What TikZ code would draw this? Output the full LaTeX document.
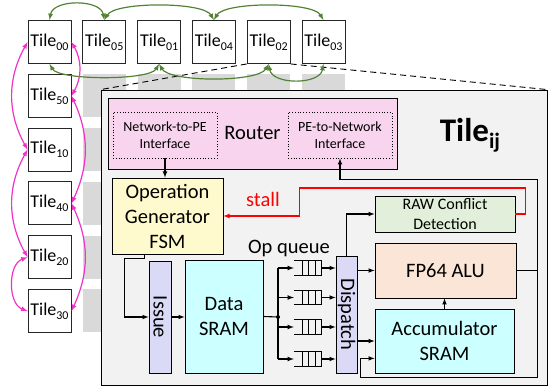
\documentclass[tikz,border=0pt]{standalone}
\usepackage{fontspec}
\setmainfont{Carlito}
\usetikzlibrary{calc,positioning}
\definecolor{ringgreen}{RGB}{84,130,53}
\definecolor{ringpink}{RGB}{240,50,200}
\definecolor{routerpink}{RGB}{249,212,238}
\definecolor{fsmyellow}{RGB}{255,250,205}
\definecolor{rawgreen}{RGB}{226,239,218}
\definecolor{alupeach}{RGB}{251,229,214}
\definecolor{sramcyan}{RGB}{204,255,255}
\definecolor{ctrlblue}{RGB}{218,218,247}
\definecolor{tilegray}{RGB}{242,242,242}
\definecolor{shadegray}{RGB}{217,217,217}
\newcommand{\tilelbl}[1]{Tile\raisebox{-4pt}{\fontsize{12}{12}\selectfont #1}}

\begin{document}
\begin{tikzpicture}[x=1pt,y=1pt,
  every node/.style={align=center,inner sep=0pt},
  tilebox/.style={draw=black!85,line width=0.9pt,fill=white,minimum width=43pt,minimum height=43pt,font=\fontsize{18}{20}\selectfont},
  shadebox/.style={fill=shadegray,minimum width=43pt,minimum height=43pt},
  unit/.style={draw,line width=0.8pt,font=\fontsize{20.5}{25}\selectfont},
  iface/.style={draw,dotted,line width=0.8pt,minimum width=104pt,minimum height=46pt,font=\fontsize{14}{17}\selectfont},
  wire/.style={line width=1.1pt,-latex},
  ring/.style={line width=1.2pt,latex-latex}]
\useasboundingbox (0,0) rectangle (550,-387);
% array of tiles behind the zoomed one
\foreach \i in {1,...,5}
  \foreach \j in {1,...,5}
    \node [shadebox] (s\i\j) at (49.5+54.8*\i,-42-53.8*\j) {};
\node [draw,fill=tilegray,line width=0.8pt,minimum width=446pt,minimum height=295pt] (pe) at (324,-237.5) {};
\foreach \lbl [count=\k from 0] in {00,05,01,04,02,03}
  \node [tilebox] (t\lbl) at (49.5+54.8*\k,-42) {\tilelbl{\lbl}};
\foreach \lbl [count=\k] in {50,10,40,20,30}
  \node [tilebox] (t\lbl) at (49.5,-42-53.8*\k) {\tilelbl{\lbl}};
\draw [dash pattern=on 6pt off 4pt,line width=0.9pt] (t02.south west) -- (pe.north west);
\draw [dash pattern=on 6pt off 4pt,line width=0.9pt] (t02.south east) -- (pe.north east);
% row ring
\draw [ring,ringgreen] (t00.north) to[out=80,in=100] (t05.north);
\draw [ring,ringgreen] (t05.north) to[out=60,in=120,looseness=0.5] (t04.north);
\draw [ring,ringgreen] (t04.north) to[out=60,in=120,looseness=0.5] (t03.north);
\draw [ring,ringgreen] (t00.south) to[out=-60,in=-120,looseness=0.45] (t01.south);
\draw [ring,ringgreen] (t01.south) to[out=-60,in=-120,looseness=0.5] (t02.south);
\draw [ring,ringgreen] (t02.south) to[out=-80,in=-100] (t03.south);
% column ring
\draw [ring,ringpink] (t00.west) to[out=241,in=119] (t10.west);
\draw [ring,ringpink] (t10.west) to[out=241,in=119] (t20.west);
\draw [ring,ringpink] (t20.west) to[out=200,in=160] (t30.west);
\draw [ring,ringpink] (t00.east) to[out=-60,in=60] (t50.east);
\draw [ring,ringpink] (t50.east) to[out=-65,in=65] (t40.east);
\draw [ring,ringpink] (t40.east) to[out=-65,in=65] (t30.east);
% processing element
\node [unit,fill=routerpink,minimum width=289pt,minimum height=71pt] (router) at (252.5,-133.5) {Router};
\node [iface] (n2pe) at (165,-135) {Network-to-PE\\Interface};
\node [iface] (pe2n) at (340,-135) {PE-to-Network\\Interface};
\node [font=\bfseries\fontsize{33}{36}\selectfont] (tileij) at (470,-135) {Tile\raisebox{-7pt}{\fontsize{22}{22}\selectfont ij}};
\node [unit,fill=fsmyellow,minimum width=111pt,minimum height=76pt] (opgen) at (167.5,-216) {Operation\\Generator\\FSM};
\node [unit,fill=rawgreen,minimum width=140pt,minimum height=36pt,font=\fontsize{16}{20}\selectfont] (raw) at (445,-214) {RAW Conflict\\Detection};
\node [unit,fill=alupeach,minimum width=141pt,minimum height=55pt] (alu) at (445.5,-270.5) {FP64 ALU};
\node [unit,fill=sramcyan,minimum width=139pt,minimum height=64pt] (acc) at (444.5,-341) {Accumulator\\SRAM};
\node [unit,fill=ctrlblue,minimum width=21pt,minimum height=117pt] (dispatch) at (346.5,-314.5) {\rotatebox{-90}{Dispatch}};
\node [unit,fill=ctrlblue,minimum width=22pt,minimum height=112pt] (issue) at (160,-317) {\rotatebox{-90}{Issue}};
\node [unit,fill=sramcyan,minimum width=78pt,minimum height=113pt] (dsram) at (224,-316.5) {Data\\SRAM};
\foreach \y [count=\i] in {-268,-297.5,-327,-359}
  \node [minimum width=27pt,minimum height=14pt] (q\i) at (307.5,\y) {};
\foreach \i in {1,...,4} {
  \draw [line width=0.8pt] (q\i.north west) -- (q\i.north east) -- (q\i.south east) -- (q\i.south west);
  \foreach \dx in {9,15,22}
    \draw [line width=0.8pt] ($(q\i.north west)+(\dx,0)$) -- ($(q\i.south west)+(\dx,0)$);
}
\node [font=\fontsize{20.5}{25}\selectfont] (oplbl) at (289,-249) {Op queue};
\coordinate (fork) at (278,-317);
\fill (fork) circle (2pt);
\draw [line width=1.1pt] (dsram.east) -- (fork);
\draw [line width=1.1pt] (fork |- q1) -- (fork |- q4);
\foreach \i in {1,...,4} {
  \draw [wire] (fork |- q\i) -- (q\i.west);
  \draw [wire] (q\i.east) -- (dispatch.west |- q\i);
}
\draw [wire] (dispatch.north) |- (raw.west);
\draw [wire] (dispatch.east |- alu) -- (alu.west);
\draw [wire] (dispatch.east |- acc) -- (acc.west);
\draw [wire] (acc.north) -- (acc.north |- alu.south);
\coordinate (loop) at ($(alu.east)+(21,0)$);
\draw [line width=1.1pt] (alu.east) -- (loop);
\draw [wire] (loop) |- ($(pe2n.south)+(0,-21)$) -- (pe2n.south);
\draw [wire] (loop) -- ++(0,-107) -| ($(acc.south west)+(-14,15)$) -- ($(acc.south west)+(0,15)$);
\draw [wire,red] (raw.east) -- ++(10,0) |- ($(opgen.east)+(76,28)$) |- (opgen.east);
\node [red,font=\fontsize{20.5}{25}\selectfont] (stall) at (263,-199) {stall};
\draw [wire] (n2pe.south) -- (n2pe.south |- opgen.north);
\draw [wire] ($(opgen.south west)+(33,0)$) |- ++(-20,-4) |- (issue.west);
\draw [wire] (issue.east) -- (dsram.west |- issue.east);
\end{tikzpicture}
\end{document}
